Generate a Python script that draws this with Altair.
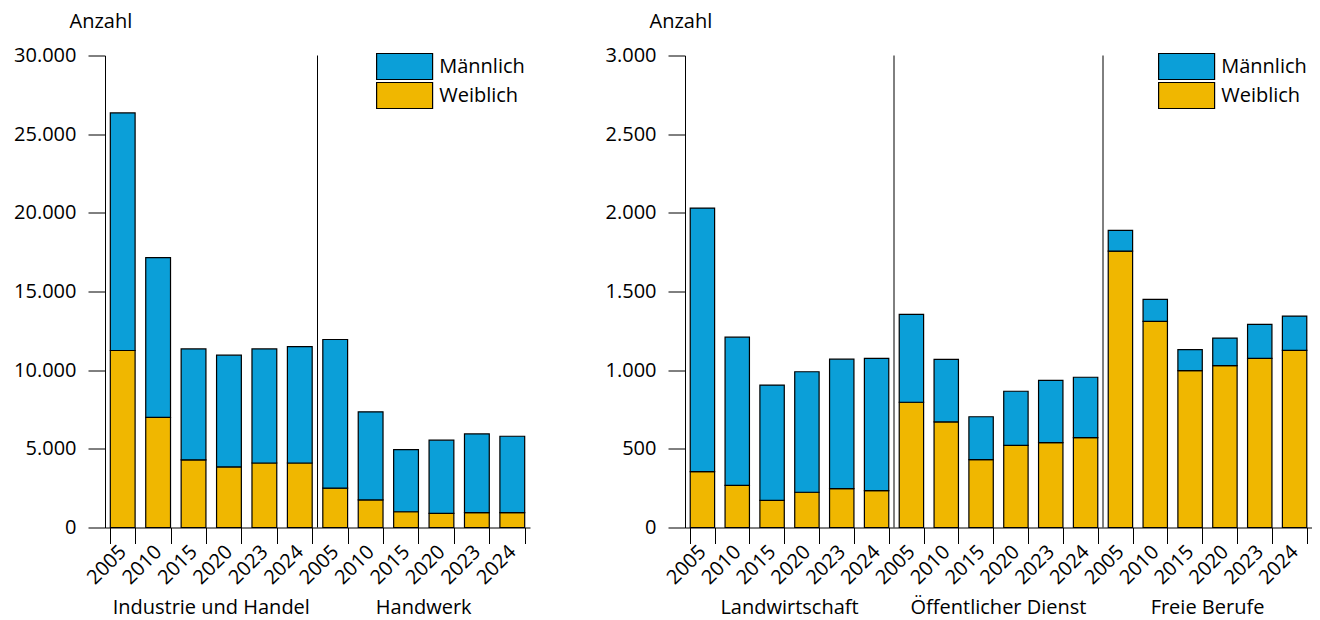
import altair as alt
import pandas as pd

FONT = "Open Sans"
BLUE = "#0B9FD8"
GOLD = "#F0B700"

years = ["2005", "2010", "2015", "2020", "2023", "2024"]

left_groups = ["Industrie und Handel", "Handwerk"]
right_groups = ["Landwirtschaft", "Öffentlicher Dienst", "Freie Berufe"]

# Weiblich / Männlich counts per group and year
ih_female = [11250, 7000, 4300, 3850, 4100, 4100]
ih_male = [15100, 10150, 7050, 7100, 7250, 7400]
hw_female = [2500, 1750, 1000, 900, 950, 950]
hw_male = [9450, 5600, 3950, 4650, 5000, 4850]

lw_female = [355, 268, 173, 224, 247, 234]
lw_male = [1675, 942, 732, 766, 823, 841]
od_female = [796, 671, 431, 522, 539, 571]
od_male = [559, 397, 273, 344, 396, 384]
fb_female = [1757, 1310, 997, 1029, 1075, 1126]
fb_male = [132, 140, 133, 175, 216, 218]

left_ticks = [0, 5000, 10000, 15000, 20000, 25000, 30000]
right_ticks = [0, 500, 1000, 1500, 2000, 2500, 3000]

HEIGHT = 472


def panel(groups, females, males, ticks, width, legend_x):
    rows, keys = [], []
    for g, fl, ml in zip(groups, females, males):
        for yr, fv, mv in zip(years, fl, ml):
            k = g + "|" + yr
            keys.append(k)
            rows.append(dict(key=k, sex="Weiblich", val=fv, ord=0))
            rows.append(dict(key=k, sex="Männlich", val=mv, ord=1))
    df = pd.DataFrame(rows)
    n = len(keys)
    step = width / n

    xscale = alt.Scale(paddingInner=0.3, paddingOuter=0.15)
    xaxis = alt.Axis(
        title=None,
        labelExpr="split(datum.value, '|')[1]",
        labelAngle=-45,
        labelAlign="right",
        labelBaseline="middle",
        labelPadding=5,
        labelFontSize=20,
        tickBand="extent",
        tickSize=16,
        domainColor="black",
        tickColor="black",
    )
    yaxis = alt.Axis(
        values=ticks,
        labelExpr="replace(format(datum.value, ','), ',', '.')",
        tickSize=17,
        labelPadding=12,
        labelFontSize=20,
        domainColor="black",
        tickColor="black",
        title="Anzahl",
        titleAngle=0,
        titleAlign="left",
        titleBaseline="middle",
        titleX=-36,
        titleY=-34,
        titleFontSize=20,
        titleFontWeight="normal",
    )
    bars = alt.Chart(df).mark_bar(stroke="black", strokeWidth=1.2).encode(
        x=alt.X("key:N", sort=keys, scale=xscale, axis=xaxis),
        y=alt.Y("val:Q", stack="zero",
                scale=alt.Scale(domain=[ticks[0], ticks[-1]], nice=False),
                axis=yaxis),
        color=alt.Color(
            "sex:N",
            scale=alt.Scale(domain=["Männlich", "Weiblich"], range=[BLUE, GOLD]),
            legend=alt.Legend(
                title=None,
                orient="none",
                legendX=legend_x,
                legendY=-2,
                direction="vertical",
                symbolType="M-2.258,-1.048H2.258V1.048H-2.258Z",
                symbolSize=615,
                symbolOffset=15.6,
                symbolStrokeColor="black",
                symbolStrokeWidth=1.2,
                symbolOpacity=1,
                labelFontSize=20,
                labelOffset=21.6,
                rowPadding=-9,
            ),
        ),
        order=alt.Order("ord:Q"),
    )

    sep_df = pd.DataFrame({"key": [keys[6 * i] for i in range(1, len(groups))]})
    seps = alt.Chart(sep_df).mark_rule(color="black", strokeWidth=1, xOffset=-step / 2).encode(
        x=alt.X("key:N", sort=keys),
        y=alt.value(0),
        y2=alt.value(HEIGHT),
    )

    lab_df = pd.DataFrame({"key": [keys[6 * i + 2] for i in range(len(groups))],
                           "label": groups})
    labels = alt.Chart(lab_df).mark_text(dx=step / 2, fontSize=20, baseline="middle",
                                         align="center", color="black").encode(
        x=alt.X("key:N", sort=keys),
        y=alt.value(HEIGHT + 80),
        text="label:N",
    )

    return alt.layer(bars, seps, labels).properties(width=width, height=HEIGHT)


left = panel(left_groups, [ih_female, hw_female], [ih_male, hw_male], left_ticks, 425, 271)
right = panel(right_groups, [lw_female, od_female, fb_female], [lw_male, od_male, fb_male],
              right_ticks, 627, 473)

chart = (
    alt.hconcat(left, right, spacing=75)
    .resolve_scale(color="independent")
    .properties(padding={"left": 5, "top": 3.5, "right": 0, "bottom": 2})
    .configure_view(stroke=None)
    .configure_axis(grid=False, labelFont=FONT, titleFont=FONT, labelColor="black",
                    titleColor="black")
    .configure_legend(labelFont=FONT, labelColor="black")
    .configure_text(font=FONT)
)

chart.save("out.html", embed_options={"renderer": "svg", "actions": False})
